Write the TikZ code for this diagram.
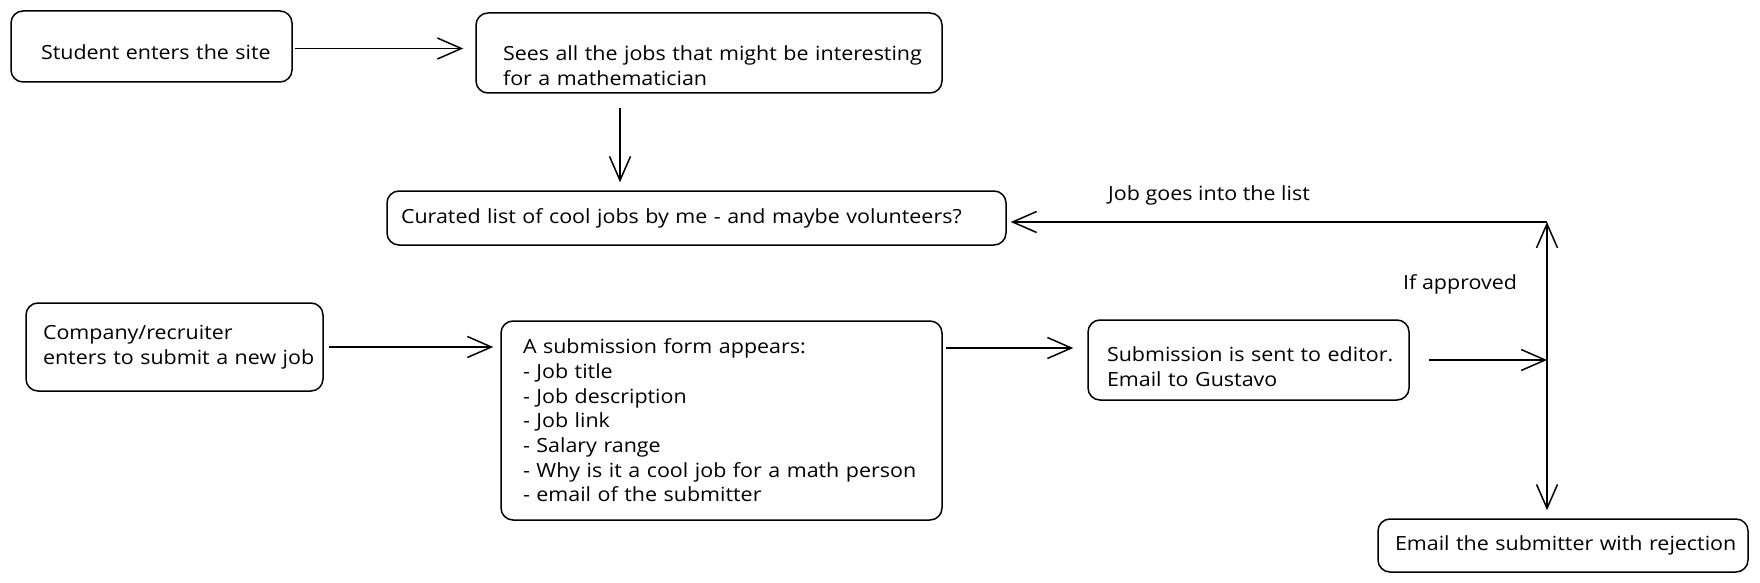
\documentclass[tikz,border=0pt]{standalone}
\usepackage{fontspec}
\setmainfont{Open Sans}[FakeStretch=1.1]
\usetikzlibrary{arrows.meta}
\begin{document}
\begin{tikzpicture}[x=1pt,y=-1pt,
 txt/.style={font=\fontsize{19.5}{24.7}\selectfont},
 box/.style={draw, line width=1.5pt, rounded corners=12pt, align=left, inner ysep=0pt, txt},
 arr/.style={line width=1.5pt, -{Straight Barb[length=24pt,width=21pt,line width=1.5pt]}},
 lbl/.style={txt, anchor=west, inner sep=0pt}]
\fill[white] (0,0) rectangle (1760,583);
\useasboundingbox (0,0) rectangle (1760,583);
\node[box, minimum height=71pt, text width=221pt, inner xsep=30pt] (A) at (151.5,46.5) {\mbox{\rule{0pt}{26pt}Student enters the site}};
\node[box, minimum height=80pt, text width=412pt, inner xsep=27pt] (B) at (709,53) {\mbox{\rule{0pt}{40pt}Sees all the jobs that might be interesting}\\\mbox{for a mathematician}};
\node[box, minimum height=54pt, text width=591pt, inner xsep=14pt] (C) at (696.5,218) {\mbox{Curated list of cool jobs by me - and maybe volunteers?}};
\node[box, minimum height=88pt, text width=263pt, inner xsep=17pt] (D) at (174.5,347) {\mbox{Company/recruiter}\\\mbox{enters to submit a new job}};
\node[box, minimum height=199pt, text width=397pt, inner xsep=22pt] (E) at (721.5,420.5) {\mbox{A submission form appears:}\\\mbox{- Job title}\\\mbox{- Job description}\\\mbox{- Job link}\\\mbox{- Salary range}\\\mbox{- Why is it a cool job for a math person}\\\mbox{- email of the submitter}};
\node[box, minimum height=80pt, text width=283pt, inner xsep=19pt] (F) at (1248.5,360) {\mbox{\rule{0pt}{28pt}Submission is sent to editor.}\\\mbox{Email to Gustavo}};
\node[box, minimum height=53pt, text width=336pt, inner xsep=17pt] (G) at (1563,545.5) {\mbox{Email the submitter with rejection}};
\node[lbl] (L1) at (1108,195) {Job goes into the list};
\node[lbl] (L2) at (1403,284) {If approved};
\coordinate (jt) at (1547,222);
\coordinate (jm) at (1547,360);
\coordinate (eo) at (946,348);
\draw[arr, shorten <=2pt, shorten >=12pt] ([yshift=-2pt]A.east) -- ([yshift=-2pt]A.east -| B.west);
\draw[arr, shorten <=14pt, shorten >=8pt] (B.south -| 620,0) -- (C.north -| 620,0);
\draw[arr, shorten >=4pt] (jt) -- (C.east |- jt);
\draw[arr] (jm) -- (jt);
\draw[arr, shorten >=8pt] (jm) -- (G.north -| jm);
\draw[arr, shorten <=19pt] (F.east) -- (jm);
\draw[arr, shorten <=5pt, shorten >=7pt] (D.east) -- (D.east -| E.west);
\draw[arr, shorten >=14pt] (eo) -- (eo -| F.west);
\end{tikzpicture}
\end{document}
